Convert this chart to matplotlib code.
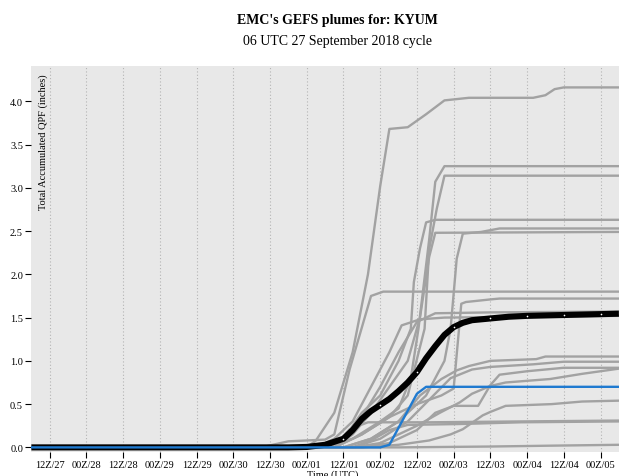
import matplotlib
matplotlib.use("Agg")
import matplotlib.pyplot as plt

# forecast hours from 06Z/27 and the label of each 12h tick
tick_hours = [6, 18, 30, 42, 54, 66, 78, 90, 102, 114, 126, 138, 150, 162, 174, 186]
tick_labels = ["12Z/27", "00Z/28", "12Z/28", "00Z/29", "12Z/29", "00Z/30",
               "12Z/30", "00Z/01", "12Z/01", "00Z/02", "12Z/02", "00Z/03",
               "12Z/03", "00Z/04", "12Z/04", "00Z/05"]
y_ticks = [0.0, 0.5, 1.0, 1.5, 2.0, 2.5, 3.0, 3.5, 4.0]

# ensemble members (hour, accumulated qpf in inches)
m01_h = [0, 90, 93, 99, 105, 110, 114, 117, 123, 129, 135, 143, 164, 168, 171, 174, 192]
m01_v = [0, 0, 0.08, 0.4, 1.1, 2.0, 3.02, 3.68, 3.70, 3.85, 4.01, 4.04, 4.04, 4.07, 4.14, 4.16, 4.16]
m02_h = [0, 96, 105, 114, 120, 124, 126.5, 130, 132, 135, 192]
m02_v = [0, 0, 0.1, 0.3, 0.45, 0.8, 1.37, 2.4, 3.07, 3.25, 3.25]
m03_h = [0, 99, 108, 117, 123, 128.5, 130, 132.5, 135, 192]
m03_v = [0, 0, 0.15, 0.35, 0.6, 1.37, 2.29, 2.76, 3.14, 3.14]
m04_h = [0, 96, 102, 108, 114, 120, 124, 125, 127, 129, 132, 192]
m04_v = [0, 0, 0.1, 0.4, 0.6, 1.0, 1.37, 1.91, 2.30, 2.60, 2.63, 2.63]
m05_h = [0, 99, 105, 111, 117, 123, 127, 130, 132, 192]
m05_v = [0, 0, 0.15, 0.4, 0.7, 1.0, 1.5, 2.2, 2.48, 2.49]
m06_h = [0, 102, 111, 120, 129, 135, 137, 139, 141, 147, 153, 192]
m06_v = [0, 0, 0.1, 0.3, 0.6, 1.0, 1.37, 2.18, 2.47, 2.49, 2.53, 2.53]
m07_h = [0, 75, 84, 96, 99, 104, 111, 115, 192]
m07_v = [0, 0, 0.07, 0.09, 0.15, 0.9, 1.75, 1.80, 1.80]
m08_h = [0, 99, 108, 117, 126, 134, 138, 140.5, 142, 150, 153, 192]
m08_v = [0, 0, 0.15, 0.35, 0.5, 0.6, 0.68, 1.66, 1.68, 1.71, 1.72, 1.72]
m09_h = [0, 96, 102, 108, 114, 120, 126, 132, 150, 192]
m09_v = [0, 0, 0.1, 0.35, 0.7, 1.1, 1.45, 1.55, 1.56, 1.57]
m10_h = [0, 93, 99, 105, 111, 117, 121, 127, 135, 192]
m10_v = [0, 0, 0.1, 0.3, 0.7, 1.1, 1.41, 1.48, 1.50, 1.52]
m11_h = [0, 102, 111, 120, 127, 134, 139, 143, 150, 165, 168, 192]
m11_v = [0, 0, 0.1, 0.3, 0.6, 0.79, 0.89, 0.94, 1.0, 1.02, 1.05, 1.05]
m12_h = [0, 105, 114, 123, 130, 137, 144, 150, 164, 174, 192]
m12_v = [0, 0, 0.1, 0.3, 0.55, 0.8, 0.9, 0.93, 0.96, 0.99, 0.99]
m13_h = [0, 105, 114, 120, 126, 133.5, 140, 144, 150, 155, 169.5, 180, 192]
m13_v = [0, 0, 0.05, 0.15, 0.25, 0.4, 0.52, 0.62, 0.71, 0.75, 0.79, 0.85, 0.91]
m14_h = [0, 108, 117, 126, 132, 138, 146, 150, 153, 162, 174, 192]
m14_v = [0, 0, 0.05, 0.2, 0.4, 0.48, 0.48, 0.72, 0.84, 0.88, 0.92, 0.92]
m15_h = [0, 108, 120, 130, 137, 141, 147.5, 150, 155, 170, 180, 192]
m15_v = [0, 0, 0.03, 0.08, 0.15, 0.21, 0.37, 0.41, 0.48, 0.50, 0.53, 0.54]
m16_h = [0, 96, 100, 104, 110, 130, 160, 192]
m16_v = [0, 0, 0.05, 0.21, 0.29, 0.29, 0.30, 0.31]
m17_h = [0, 105, 111, 117, 123, 140, 160, 192]
m17_v = [0, 0, 0.08, 0.2, 0.26, 0.27, 0.29, 0.30]
m18_h = [0, 120, 150, 170, 192]
m18_v = [0, 0, 0.01, 0.02, 0.03]

# blue member
ctl_h = [0, 114, 117, 126, 129, 192]
ctl_v = [0, 0, 0.03, 0.62, 0.70, 0.70]

# ensemble mean (black)
mean_h = [0, 84, 90, 96, 102, 105, 108, 111, 114, 117, 120, 123, 126, 129, 132,
          135, 138, 141, 144, 150, 156, 162, 174, 186, 192]
mean_v = [0, 0, 0.005, 0.03, 0.10, 0.20, 0.33, 0.42, 0.49, 0.56, 0.65, 0.75, 0.87,
          1.03, 1.17, 1.30, 1.39, 1.44, 1.47, 1.49, 1.51, 1.52, 1.53, 1.54, 1.545]
mean_dot_h = [102, 114, 126, 138, 150, 162, 174, 186]
mean_dot_v = [0.10, 0.49, 0.87, 1.39, 1.49, 1.52, 1.53, 1.54]

members = [(m01_h, m01_v), (m02_h, m02_v), (m03_h, m03_v), (m04_h, m04_v),
           (m05_h, m05_v), (m06_h, m06_v), (m07_h, m07_v), (m08_h, m08_v),
           (m09_h, m09_v), (m10_h, m10_v), (m11_h, m11_v), (m12_h, m12_v),
           (m13_h, m13_v), (m14_h, m14_v), (m15_h, m15_v), (m16_h, m16_v),
           (m17_h, m17_v), (m18_h, m18_v)]

plt.rcParams['font.family'] = ['Liberation Serif', 'DejaVu Serif']

fig = plt.figure(figsize=(6.4, 4.77), dpi=100)
ax = fig.add_axes([0.049, 0.050, 0.918, 0.810])
ax.set_facecolor('#e8e8e8')
for s in ax.spines.values():
    s.set_visible(False)

for h in tick_hours:
    ax.axvline(h, color='#b4b4b4', lw=0.8, ls=(0, (1, 2)), zorder=1)

for hh, vv in members:
    ax.plot(hh, vv, color='#a2a2a2', lw=1.7, zorder=2, solid_joinstyle='round')

ax.plot(mean_h, mean_v, color='black', lw=4.4, zorder=3,
        solid_capstyle='butt', solid_joinstyle='round')
ax.plot(mean_dot_h, mean_dot_v, 'o', color='white', ms=1.2, mew=0, zorder=4)
ax.plot(ctl_h, ctl_v, color='#1f7ad0', lw=1.7, zorder=5)

ax.set_xlim(0, 192)
ax.set_ylim(-0.055, 4.41)
ax.set_xticks(tick_hours)
ax.set_xticklabels(tick_labels, fontsize=7.5)
ax.set_yticks(y_ticks)
ax.set_yticklabels([f"{t:.1f}" for t in y_ticks], fontsize=7.5)
ax.tick_params(axis='both', direction='out', length=4, width=0.8, pad=2)

ax.text(0.0195, 0.98, "Total Accumulated QPF (inches)", rotation=90,
        transform=ax.transAxes, ha='center', va='top', fontsize=7.5)

fig.text(0.528, 0.958, "EMC's GEFS plumes for: KYUM", ha='center', va='center',
         fontsize=10, fontweight='bold')
fig.text(0.528, 0.912, "06 UTC 27 September 2018 cycle", ha='center', va='center',
         fontsize=10)
fig.text(0.52, 0.013, "Time (UTC)", ha='center', va='top', fontsize=7.5)

fig.savefig("out.png", dpi=100)
